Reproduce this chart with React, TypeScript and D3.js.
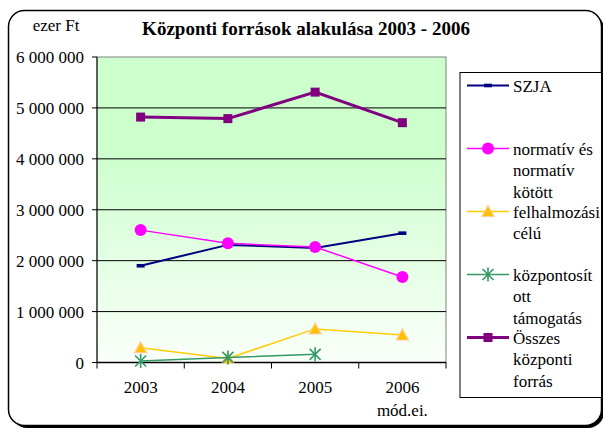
import React from "react";
import * as d3 from "d3";

const years = ["2003", "2004", "2005", "2006"];
const szja = [1900000, 2310000, 2250000, 2540000];
const normativ = [2600000, 2340000, 2270000, 1680000];
const felh = [290000, 80000, 660000, 540000];
const kozp: (number | null)[] = [30000, 100000, 160000, null];
const osszes = [4820000, 4790000, 5310000, 4710000];
const yTicks = [0, 1000000, 2000000, 3000000, 4000000, 5000000, 6000000];
const yTickLabels = ["0", "1 000 000", "2 000 000", "3 000 000", "4 000 000", "5 000 000", "6 000 000"];
const legendLabels = [
  ["SZJA"],
  ["normatív és", "normatív", "kötött"],
  ["felhalmozási", "célú"],
  ["központosít", "ott", "támogatás"],
  ["Összes", "központi", "forrás"],
];
const title = "Központi források alakulása 2003 - 2006";
const unitLabel = "ezer Ft";
const lastNote = "mód.ei.";

const FONT = "Liberation Serif, Times New Roman, DejaVu Serif, serif";

type Kind = "dash" | "circle" | "triangle" | "star" | "square";
const series: { values: (number | null)[]; color: string; width: number; kind: Kind }[] = [
  { values: szja, color: "#000080", width: 2, kind: "dash" },
  { values: normativ, color: "#FF00FF", width: 1.5, kind: "circle" },
  { values: felh, color: "#FFCC00", width: 1.5, kind: "triangle" },
  { values: kozp, color: "#339966", width: 1.5, kind: "star" },
  { values: osszes, color: "#800080", width: 3, kind: "square" },
];

function Marker({ kind, x, y, color }: { kind: Kind; x: number; y: number; color: string }) {
  switch (kind) {
    case "dash":
      return <rect x={x - 4} y={y - 1.8} width={8} height={3.6} fill={color} />;
    case "circle":
      return <circle cx={x} cy={y} r={6} fill={color} />;
    case "triangle":
      return (
        <path
          d={`M${x},${y - 6} L${x + 6},${y + 5} L${x - 6},${y + 5} Z`}
          fill="#FFC000"
          stroke="#FFCC99"
          strokeWidth={1.2}
        />
      );
    case "star":
      return (
        <g stroke={color} strokeWidth={1.6}>
          <line x1={x - 5.5} y1={y - 5.5} x2={x + 5.5} y2={y + 5.5} />
          <line x1={x - 5.5} y1={y + 5.5} x2={x + 5.5} y2={y - 5.5} />
          <line x1={x} y1={y - 7} x2={x} y2={y + 7} />
        </g>
      );
    case "square":
      return <rect x={x - 4.5} y={y - 4.5} width={9} height={9} fill={color} />;
  }
}

export default function App() {
  const W = 603, H = 428;
  const left = 97, right = 446, top = 57, bottom = 362.5;
  const x = d3.scaleBand<string>().domain(years).range([left, right]).padding(0);
  const y = d3.scaleLinear().domain([0, 6000000]).range([bottom, top]);
  const cx = (d: string) => (x(d) as number) + x.bandwidth() / 2;

  const lineGen = d3
    .line<number | null>()
    .defined((d) => d !== null)
    .x((_, i) => cx(years[i]))
    .y((d) => y(d as number));

  const legX = 460, legY = 72.5, legW = 141.5, legH = 325;
  const itemY0 = 85.5, itemStep = 63, lineStep = 21.5;

  return (
    <svg
      width={W}
      height={H}
      style={{ position: "absolute", left: 0, top: 0, fontFamily: FONT }}
    >
      <defs>
        <linearGradient id="bg" x1="0" y1="0" x2="0" y2="1">
          <stop offset="0" stopColor="#CCFFCC" />
          <stop offset="0.3" stopColor="#CCFFCC" />
          <stop offset="1" stopColor="#FAFFFA" />
        </linearGradient>
      </defs>
      <rect x={0} y={0} width={W} height={H} fill="#fff" />
      {/* frame with shadow */}
      <rect x={11} y={13} width={593} height={415} rx={16} fill="#000" />
      <rect x={8.5} y={10.5} width={593} height={415} rx={16} fill="#fff" stroke="#000" strokeWidth={1.5} />

      <text x={306} y={35} textAnchor="middle" fontWeight="bold" fontSize={19} style={{ fontFamily: FONT }}>
        {title}
      </text>
      <text x={56} y={31} textAnchor="middle" fontSize={17} style={{ fontFamily: FONT }}>
        {unitLabel}
      </text>

      {/* plot area */}
      <rect x={left} y={top} width={right - left} height={bottom - top} fill="url(#bg)" stroke="#808080" strokeWidth={1} />
      {yTicks.map((t, i) => (
        <g key={t}>
          {i > 0 && i < yTicks.length - 1 && (
            <line x1={left} x2={right} y1={y(t)} y2={y(t)} stroke="#000" strokeWidth={1} />
          )}
          <line x1={left - 5} x2={left} y1={y(t)} y2={y(t)} stroke="#000" strokeWidth={1} />
          <text x={84} y={y(t) + 6} textAnchor="end" fontSize={17} style={{ fontFamily: FONT }}>
            {yTickLabels[i]}
          </text>
        </g>
      ))}
      <line x1={left} x2={left} y1={top} y2={bottom} stroke="#000" strokeWidth={1} />
      <line x1={left} x2={right} y1={bottom} y2={bottom} stroke="#000" strokeWidth={1.5} />
      {years.concat(["end"]).map((d, i) => {
        const xx = left + i * x.bandwidth();
        return <line key={d} x1={xx} x2={xx} y1={bottom} y2={bottom + 6} stroke="#000" strokeWidth={1} />;
      })}
      {years.map((d) => (
        <text key={d} x={cx(d)} y={393} textAnchor="middle" fontSize={17} style={{ fontFamily: FONT }}>
          {d}
        </text>
      ))}
      <text x={cx(years[3])} y={416} textAnchor="middle" fontSize={17} style={{ fontFamily: FONT }}>
        {lastNote}
      </text>

      {/* series */}
      {series.map((s, si) => (
        <g key={si}>
          <path d={lineGen(s.values) || ""} fill="none" stroke={s.color} strokeWidth={s.width} />
          {s.values.map((v, i) =>
            v === null ? null : <Marker key={i} kind={s.kind} x={cx(years[i])} y={y(v)} color={s.color} />
          )}
        </g>
      ))}

      {/* legend */}
      <rect x={legX} y={legY} width={legW} height={legH} fill="#fff" stroke="#000" strokeWidth={1} />
      {series.map((s, i) => {
        const iy = itemY0 + i * itemStep;
        return (
          <g key={i}>
            <line x1={467} x2={509} y1={iy} y2={iy} stroke={s.color} strokeWidth={s.width} />
            <Marker kind={s.kind} x={488} y={iy} color={s.color} />
            <text fontSize={17} style={{ fontFamily: FONT }}>
              {legendLabels[i].map((l, j) => (
                <tspan key={j} x={513} y={iy + 6 + j * lineStep}>
                  {l}
                </tspan>
              ))}
            </text>
          </g>
        );
      })}
    </svg>
  );
}
